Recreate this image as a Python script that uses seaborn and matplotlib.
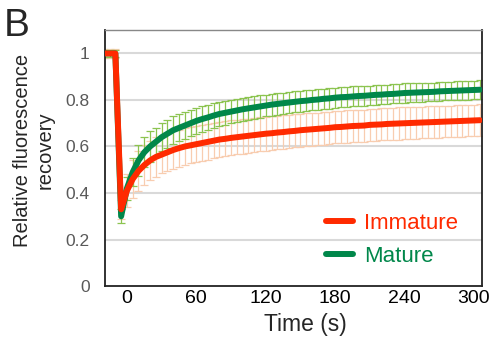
import numpy as np
import pandas as pd
import matplotlib
matplotlib.use('Agg')
import matplotlib.pyplot as plt
import seaborn as sns

# time points (s), bleach just before 0
time = [-20, -15, -10, -5] + list(range(0, 310, 5))

mature = [1.0, 1.0, 1.0, 0.30,
          0.42, 0.49, 0.54, 0.575, 0.60, 0.62, 0.64, 0.655, 0.67, 0.68, 0.69, 0.70, 0.71,
          0.718, 0.725, 0.733, 0.74, 0.745, 0.75, 0.755, 0.76, 0.764, 0.768, 0.772, 0.776,
          0.78, 0.783, 0.786, 0.789, 0.792, 0.795, 0.797, 0.80, 0.802, 0.805, 0.807, 0.81,
          0.812, 0.813, 0.815, 0.817, 0.818, 0.82, 0.822, 0.823, 0.825, 0.826, 0.828, 0.83,
          0.831, 0.832, 0.833, 0.834, 0.835, 0.837, 0.838, 0.839, 0.84, 0.841, 0.842, 0.843,
          0.844]
mature_err = [0.015, 0.015, 0.015, 0.03,
              0.05, 0.06, 0.065, 0.065, 0.065, 0.06, 0.06, 0.06, 0.06, 0.058, 0.057, 0.056, 0.055,
              0.054, 0.053, 0.052, 0.052, 0.051, 0.05, 0.05, 0.049, 0.049, 0.048, 0.048, 0.047,
              0.047, 0.046, 0.046, 0.046, 0.045, 0.045, 0.045, 0.044, 0.044, 0.044, 0.044, 0.043,
              0.043, 0.043, 0.043, 0.042, 0.042, 0.042, 0.042, 0.042, 0.041, 0.041, 0.041, 0.041,
              0.041, 0.04, 0.04, 0.04, 0.04, 0.04, 0.04, 0.04, 0.04, 0.04, 0.04, 0.04,
              0.04]

immature = [1.0, 1.0, 1.0, 0.33,
            0.41, 0.46, 0.495, 0.52, 0.54, 0.555, 0.565, 0.575, 0.585, 0.593, 0.60, 0.605, 0.61,
            0.615, 0.62, 0.625, 0.63, 0.633, 0.637, 0.64, 0.643, 0.646, 0.649, 0.652, 0.655,
            0.657, 0.66, 0.662, 0.665, 0.667, 0.67, 0.672, 0.674, 0.676, 0.678, 0.68, 0.683,
            0.684, 0.686, 0.688, 0.689, 0.69, 0.693, 0.694, 0.695, 0.697, 0.698, 0.699, 0.70,
            0.701, 0.702, 0.703, 0.704, 0.705, 0.706, 0.707, 0.708, 0.709, 0.71, 0.711, 0.712,
            0.713]
immature_err = [0.02, 0.02, 0.02, 0.04,
                0.07, 0.08, 0.085, 0.085, 0.085, 0.085, 0.08, 0.08, 0.08, 0.08, 0.078, 0.078, 0.077,
                0.077, 0.076, 0.076, 0.075, 0.075, 0.075, 0.074, 0.074, 0.074, 0.073, 0.073, 0.073,
                0.072, 0.072, 0.072, 0.072, 0.071, 0.071, 0.071, 0.071, 0.07, 0.07, 0.07, 0.07,
                0.07, 0.07, 0.07, 0.07, 0.069, 0.069, 0.069, 0.069, 0.069, 0.069, 0.069, 0.069,
                0.068, 0.068, 0.068, 0.068, 0.068, 0.068, 0.068, 0.068, 0.068, 0.068, 0.068, 0.068,
                0.068]

x_ticks = [0, 60, 120, 180, 240, 300]
y_ticks = [0, 0.2, 0.4, 0.6, 0.8, 1]
y_tick_labels = ['0', '0.2', '0.4', '0.6', '0.8', '1']

df = pd.DataFrame({'time': time, 'Mature': mature, 'Immature': immature})

sns.set_style('white')
plt.rcParams['font.family'] = ['Liberation Sans', 'DejaVu Sans']

red = '#ff2a00'
green = '#00874a'

fig = plt.figure(figsize=(4.95, 3.43), dpi=100)
ax = fig.add_axes([0.212, 0.166, 0.762, 0.746])

for y in y_ticks[1:]:
    ax.axhline(y, color='#d9d9d9', lw=1.5, zorder=0)

ax.errorbar(time, immature, yerr=immature_err, fmt='none', ecolor='#f8cdb0',
            elinewidth=0.9, capsize=2.6, capthick=0.9, zorder=1)
ax.errorbar(time, mature, yerr=mature_err, fmt='none', ecolor='#8cc450',
            elinewidth=0.9, capsize=2.6, capthick=0.9, zorder=2)
sns.lineplot(data=df, x='time', y='Mature', color=green, lw=4.3, ax=ax, zorder=3,
             label='Mature')
sns.lineplot(data=df, x='time', y='Immature', color=red, lw=4.3, ax=ax, zorder=4,
             label='Immature')

ax.set_xlim(-19, 307)
ax.set_ylim(0, 1.1)
ax.set_xticks(x_ticks)
ax.set_xticklabels([str(t) for t in x_ticks], fontsize=14, color='black')
ax.set_yticks(y_ticks)
ax.set_yticklabels(y_tick_labels, fontsize=12.5, color='#595959')
ax.tick_params(length=0)
ax.tick_params(axis='x', pad=3)
ax.tick_params(axis='y', pad=11)

ax.set_xlabel('')
ax.set_ylabel('')
fig.text(305 / 495, 1 - 325 / 343, 'Time (s)', fontsize=16.5, ha='center', va='center')
fig.text(34 / 495, 1 - 150 / 343, 'Relative fluorescence\nrecovery', fontsize=14.5,
         rotation=90, ha='center', va='center', multialignment='center', linespacing=1.25)

for side in ['left', 'bottom', 'right']:
    ax.spines[side].set_color('#222222')
    ax.spines[side].set_linewidth(1.3)
ax.spines['top'].set_color('#888888')
ax.spines['top'].set_linewidth(1.0)

handles, labels = ax.get_legend_handles_labels()
order = [labels.index('Immature'), labels.index('Mature')]
leg = ax.legend([handles[i] for i in order], [labels[i] for i in order],
                loc='center', bbox_to_anchor=(0.761, 0.18), frameon=False,
                borderaxespad=0, borderpad=0,
                fontsize=16, handlelength=1.25, handletextpad=0.5, labelspacing=0.55)
for txt, c in zip(leg.get_texts(), [red, green]):
    txt.set_color(c)

fig.text(0.008, 1 - 8 / 343, 'B', fontsize=28, va='top', ha='left')

fig.savefig('out.png', dpi=100)
